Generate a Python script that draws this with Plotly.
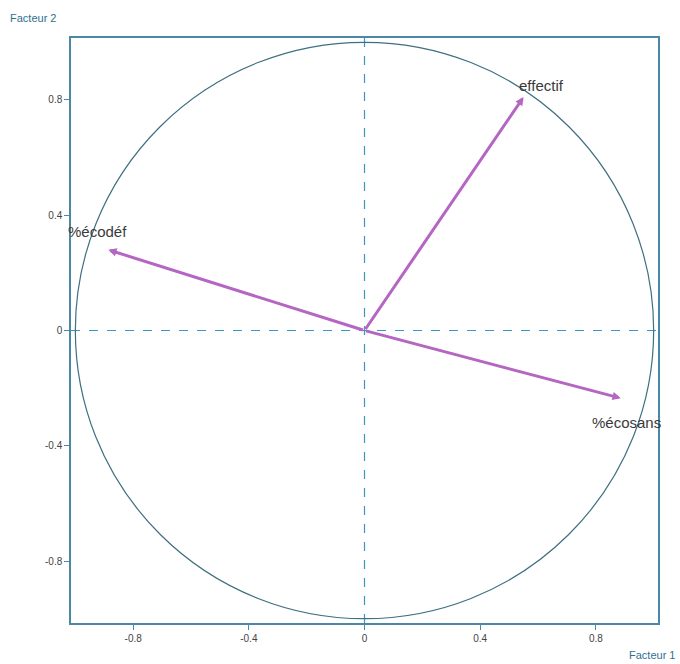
import plotly.graph_objects as go

variables = ["effectif", "%écodéf", "%écosans"]
factor1 = [0.55, -0.886, 0.886]
factor2 = [0.81, 0.28, -0.235]
label_shift_x = [18, -11, 6]
label_shift_y = [12, 18, -24]

tick_vals = [-0.8, -0.4, 0, 0.4, 0.8]
tick_text = ["-0.8", "-0.4", "0", "0.4", "0.8"]

frame_col = "#4a88a6"
dash_col = "#3a96c4"
arrow_col = "#b565c2"

fig = go.Figure()

# unit circle
fig.add_shape(type="circle", xref="x", yref="y", x0=-1, y0=-1, x1=1, y1=1,
              line=dict(color="#3f6f80", width=1.2), layer="below")
# dashed axes
fig.add_shape(type="line", xref="x", yref="paper", x0=0, x1=0, y0=0, y1=1,
              line=dict(color=dash_col, width=1.2, dash="dash"), layer="below")
fig.add_shape(type="line", xref="paper", yref="y", x0=0, x1=1, y0=0, y1=0,
              line=dict(color=dash_col, width=1.2, dash="dash"), layer="below")

for name, fx, fy, sx, sy in zip(variables, factor1, factor2, label_shift_x, label_shift_y):
    fig.add_annotation(x=fx, y=fy, ax=0, ay=0, xref="x", yref="y", axref="x", ayref="y",
                       text="", showarrow=True, arrowhead=2, arrowsize=0.55, arrowwidth=3,
                       arrowcolor=arrow_col)
    fig.add_annotation(x=fx, y=fy, xref="x", yref="y", text=name, showarrow=False,
                       xshift=sx, yshift=sy,
                       font=dict(family="Liberation Sans, Arial", size=15, color="#3a3a3a"))

fig.add_annotation(xref="paper", yref="paper", x=-0.107, y=1.035, xanchor="left", yanchor="middle",
                   text="Facteur 2", showarrow=False,
                   font=dict(family="Liberation Sans, Arial", size=11, color="#2f6f8f"))
fig.add_annotation(xref="paper", yref="paper", x=1.032, y=-0.055, xanchor="right", yanchor="middle",
                   text="Facteur 1", showarrow=False,
                   font=dict(family="Liberation Sans, Arial", size=11, color="#2f6f8f"))

axis_common = dict(
    range=[-1.015, 1.015], tickvals=tick_vals, ticktext=tick_text,
    showgrid=False, zeroline=False, showline=True, mirror=True,
    linecolor=frame_col, linewidth=1.5, ticks="outside", ticklen=5,
    tickcolor=frame_col, tickwidth=1.2,
    tickfont=dict(family="Liberation Sans, Arial", size=10, color="#444444"),
)
fig.update_xaxes(**axis_common)
fig.update_yaxes(**axis_common)

fig.update_layout(
    width=680, height=664,
    margin=dict(l=71, r=22, t=38, b=41),
    plot_bgcolor="white", paper_bgcolor="white",
    showlegend=False,
)

fig.write_html("out.html", config={"displayModeBar": False},
               post_script="document.body.style.margin='0';document.body.style.overflow='hidden';")
